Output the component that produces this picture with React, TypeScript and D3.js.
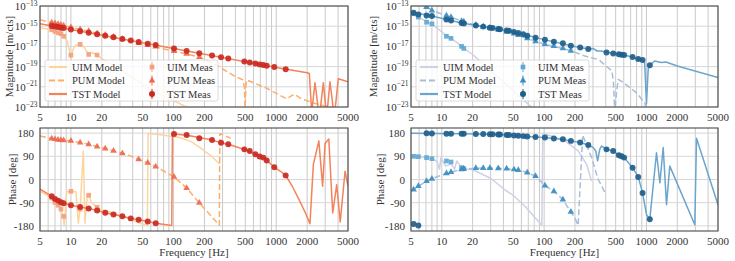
import { useEffect, useRef } from "react";
import * as d3 from "d3";

const W = 735;
const H = 261;
const FONT = "'Liberation Serif', 'DejaVu Serif', serif";

// ticks
const freqTicks = [5, 10, 20, 50, 100, 200, 500, 1000, 2000, 5000];
const magTicks = [1e-13, 1e-15, 1e-17, 1e-19, 1e-21, 1e-23];
const magTickExp = ["\u221213", "\u221215", "\u221217", "\u221219", "\u221221", "\u221223"];
const phaseTicks = [180, 90, 0, -90, -180];
const gridFreqs = [5, 6, 7, 8, 9, 10, 20, 30, 40, 50, 60, 70, 80, 90, 100, 200, 300, 400, 500, 600, 700, 800, 900, 1000, 2000, 3000, 4000, 5000];

// ---------- left (orange) ----------
const uimModelMagL: [number, number][] = [
  [5, 7.1e-16], [6.5, 4.4e-16], [7, 3.0e-16], [7.5, 2.2e-16], [8, 1.8e-16], [8.5, 1.0e-16],
  [9.2, 3.2e-17], [9.7, 3.2e-18], [10, 6.3e-19], [10.4, 4e-18], [11, 1.26e-17], [12.3, 1.6e-17],
  [13.5, 7.9e-18], [14.9, 1.6e-18], [16, 2.5e-18], [18, 1.4e-18], [20, 6.3e-19], [30, 5e-20],
  [50, 2e-21], [80, 1.26e-22], [134, 1e-23], [200, 1e-24],
];
const uimModelPhL: [number, number][] = [
  [5, -45], [6.5, -72], [7, -89], [7.5, -100], [8, -115], [8.4, -143], [8.6, -178], [9.1, -48],
  [10, -46], [11.2, -48], [11.8, -170], [12.3, -115], [13.2, 111], [13.7, -170], [14.45, -62],
  [14.9, -61], [15.9, -90], [18, -108], [19.2, -115], [25, -128], [35, -150], [45, -167],
  [55.5, -179], [56.5, 179], [75, 174], [100, 166], [115, 163], [150, 146], [181, 124], [230, 93], [283, 59],
];
const pumModelMagL: [number, number][] = [
  [5, 4.3e-15], [10, 7.9e-16], [20, 1.58e-16], [50, 1.58e-17], [100, 3.5e-18], [178, 8.9e-19],
  [250, 1.8e-19], [380, 1.4e-20], [470, 5e-21], [490, 1e-21], [497, 3e-24], [505, 1e-21],
  [515, 4.7e-21], [808, 7.2e-22], [1264, 6.5e-23], [1500, 1.86e-22], [1770, 6.3e-23],
  [2400, 2.2e-23], [3300, 1e-23], [5000, 4e-24],
];
const pumModelPhL: [number, number][] = [
  [5, 169], [6.5, 159], [8, 153], [10, 150], [12.3, 143.5], [14.9, 137], [18, 128], [21.6, 120],
  [26, 111], [31.7, 102], [38, 91], [45.7, 78], [56, 65], [67, 50], [80, 33], [101, 10], [134, -33],
  [178, -91], [230, -140], [279, -178], [282, 178], [310, 172], [360, 160],
];
const tstModelMagL: [number, number][] = [
  [5, 1.78e-15], [100, 6.3e-18], [1000, 8.3e-20], [2000, 2.5e-20], [2100, 2.1e-20], [2215, 3e-24],
  [2385, 2.5e-21], [2628, 1e-24], [2875, 2.5e-21], [3100, 1e-24], [3335, 3.2e-21], [3680, 1e-24],
  [4020, 6.3e-21], [5000, 3.2e-21],
];
const tstModelPhL: [number, number][] = [
  [5, -37], [6.5, -65], [7, -76], [7.5, -82], [8, -88], [8.5, -92], [10, -100], [12.3, -107],
  [14.9, -113], [18, -120], [21.6, -129], [26, -136], [31.7, -143], [38.3, -151], [45.7, -156],
  [56, -163], [67, -170], [85, -176], [96, -179], [97.5, 179], [101, 177], [134, 172], [178, 163],
  [237, 153], [290, 143], [341, 137], [420, 125], [489, 117], [552, 108], [626, 99], [690, 91],
  [748, 84], [808, 75], [957, 48], [1100, 32], [1236, 16], [1450, -30], [1700, -85], [1950, -135],
  [2130, -172], [2300, 59], [2600, 150], [2830, -26], [2990, 140], [3250, 157], [3550, -130],
  [3880, -20], [4200, -165], [4680, 32], [5000, -26],
];

const uimFreqL = [6.5, 7, 7.5, 8, 8.5, 10, 12.3, 14.9, 18];
const uimMagL = [4.4e-16, 3.0e-16, 2.2e-16, 1.8e-16, 1.0e-16, 1.35e-18, 1.6e-17, 1.6e-18, 1.4e-18];
const uimPhL = [-72, -89, -100, -115, -143, -46, -115, -61, -108];

const pumFreqL = [6.5, 7, 7.5, 8, 8.5, 10, 12.3, 14.9, 18, 21.6, 26, 31.7, 45.7, 56, 67, 101, 134, 178];
const pumMagL = [2.3e-15, 1.9e-15, 1.58e-15, 1.35e-15, 1.17e-15, 7.9e-16, 4.9e-16, 3.2e-16, 2.0e-16,
  1.38e-16, 8.9e-17, 5.5e-17, 2.1e-17, 1.38e-17, 9.5e-18, 3.5e-18, 1.8e-18, 8.9e-19];
const pumPhL = [159, 156.5, 154, 153, 152, 150, 143.5, 137, 128, 120, 111, 102, 78, 65, 50, 10, -33, -91];

const tstFreqL = [6.5, 7, 7.5, 8, 8.5, 10, 12.3, 14.9, 18, 21.6, 26, 31.7, 38.3, 45.7, 56, 67, 101, 134,
  178, 237, 290, 341, 489, 552, 626, 690, 748, 808, 957, 1236];
const tstMagL = [1.07e-15, 9.3e-16, 8.2e-16, 7.2e-16, 6.5e-16, 4.8e-16, 3.2e-16, 2.24e-16, 1.58e-16,
  1.12e-16, 7.9e-17, 5.5e-17, 3.8e-17, 2.75e-17, 1.86e-17, 1.35e-17, 6.2e-18, 3.6e-18, 2.1e-18,
  1.23e-18, 8.5e-19, 6.3e-19, 3.2e-19, 2.5e-19, 2.0e-19, 1.66e-19, 1.44e-19, 1.24e-19, 9.1e-20, 5.6e-20];
const tstPhL = [-65, -76, -82, -88, -92, -100, -107, -113, -120, -129, -136, -143, -151, -156, -163,
  -170, 177, 173, 160, 153, 143, 137, 117, 111, 98, 89, 85, 74, 48, 16];

// ---------- right (blue) ----------
const uimModelMagR: [number, number][] = [
  [5, 2e-14], [5.9, 7.9e-15], [7.1, 2.8e-15], [8, 1.6e-15], [9, 6.3e-16], [10, 2.8e-16],
  [11.1, 1e-16], [12.3, 6.3e-17], [14, 2.5e-17], [15.6, 1e-17], [16.4, 6.3e-18], [20, 1.58e-18],
  [30, 4e-20], [50, 4e-22], [75, 1e-23], [100, 5e-25],
];
const uimModelPhR: [number, number][] = [
  [5, 91], [7.1, 85], [8, 81], [9, 70], [9.5, 40], [9.8, 85], [10.9, 52], [12.3, 62], [13.3, 40],
  [14, 72], [15.6, 46], [16.4, 42], [20, 38], [30, 5], [41, -39], [50, -62], [65, -104], [80, -145],
  [95, -178], [97, 178], [120, 168], [160, 150], [215, 111], [260, 59], [291, -6],
];
const pumModelMagR: [number, number][] = [
  [5, 2.5e-13], [6, 1.6e-13], [7.1, 7.9e-14], [8, 4e-14], [10, 1.6e-14], [12.3, 7.9e-15],
  [15.6, 3.2e-15], [21, 1.35e-15], [30, 6.3e-16], [45, 2.5e-16], [56, 1.35e-16], [68, 6.3e-17],
  [100, 1.7e-17], [150, 6.3e-18], [185, 3.6e-18], [250, 1.1e-18], [340, 5e-19], [460, 3.6e-20],
  [475, 3e-21], [490, 3e-24], [510, 3e-22], [530, 5.4e-21], [600, 2.5e-21], [800, 2.5e-22],
  [964, 2.5e-23], [1000, 3e-24],
];
const pumModelPhR: [number, number][] = [
  [5, -45], [5.3, -39], [5.9, -26], [7.1, -6.5], [8, 3], [11.1, 23.5], [12.3, 28.7], [15.6, 39],
  [21.5, 44], [30, 44.5], [43, 42], [55.9, 37], [68.4, 27], [82.4, 13], [101.8, -23.5],
  [124.5, -45.6], [152.5, -78], [182.5, -126], [200, -150], [215, -178], [238, 172], [291, 85],
  [337, 0], [360, -20], [393, -52],
];
const tstModelMagR: [number, number][] = [
  [5, 2.5e-14], [8, 1e-14], [15.6, 2.1e-15], [30, 7.1e-16], [50, 2.8e-16], [100, 4.7e-17],
  [200, 1e-17], [270, 5.4e-18], [300, 6.3e-18], [330, 3.5e-18], [360, 3.5e-18], [400, 2.8e-18],
  [500, 1.9e-18], [600, 1.38e-18], [730, 8.9e-19], [900, 4.7e-19], [960, 2.5e-19], [1000, 2e-23],
  [1040, 6.3e-20], [1078, 1.35e-19], [1200, 3.6e-19], [1400, 2.5e-19], [1550, 2.8e-19],
  [2000, 1.15e-19], [5000, 8.5e-21],
];
const tstModelPhR: [number, number][] = [
  [5, 179.5], [8, 178.5], [16, 177.5], [30, 175.5], [45, 173], [56, 170], [68, 167], [82, 165],
  [100, 163], [125, 159], [152, 156.5], [182, 150], [225, 143.5], [270, 134], [300, 125],
  [320, 110], [333, 72], [350, 118], [364, 130], [407, 117], [473, 111], [537, 94], [571, 90],
  [605, 85], [731, 46], [830, 10], [916, -52], [1002, -137], [1078, -154], [1253, 104],
  [1352, -13], [1457, 124], [1570, -98], [1690, 52], [2966, -176], [3083, 160], [5000, -98],
];

const uimFreqR = [5.3, 5.9, 7.1, 8.0, 11.1, 12.3, 15.6, 16.4];
const uimMagR = [1.7e-14, 7.9e-15, 2.5e-15, 1.7e-15, 1.0e-16, 6.3e-17, 1.0e-17, 6.3e-18];
const uimPhR = [90, 88.6, 85, 81, 72, 68, 46, 42];

const pumFreqR = [5.3, 5.9, 7.1, 8.0, 11.1, 12.3, 15.6, 16.4, 21.5, 25.4, 29.5, 35.6, 43, 50.7, 55.9,
  68.4, 82.4, 101.8, 124.5, 152.5, 182.5];
const pumMagR = [2.2e-13, 1.6e-13, 7.9e-14, 3.5e-14, 1.1e-14, 7.9e-15, 3.2e-15, 2.8e-15, 1.35e-15,
  9.3e-16, 6.8e-16, 4.5e-16, 2.8e-16, 1.9e-16, 1.35e-16, 6.3e-17, 3.2e-17, 1.7e-17, 1.1e-17,
  6.3e-18, 3.6e-18];
const pumPhR = [-39, -26, -6.5, 3, 23.5, 28.7, 39, 41.7, 44, 44.3, 44.3, 43.5, 42, 39, 37, 27, 13,
  -23.5, -45.6, -78, -126];

const tstFreqR = [5.3, 5.9, 7.1, 8.0, 11.1, 12.3, 15.6, 16.4, 21.5, 25.4, 29.5, 31.3, 35.6, 37, 43,
  45.3, 50.7, 55.9, 62.5, 68.4, 82.4, 101.8, 124.5, 152.5, 182.5, 225, 270, 407, 473, 537, 571, 605,
  731, 830, 916, 1078];
const tstMagR = [2.1e-14, 1.45e-14, 1.15e-14, 1.0e-14, 4.7e-15, 3.7e-15, 2.1e-15, 1.9e-15, 1.15e-15,
  9.1e-16, 7.2e-16, 6.6e-16, 5.4e-16, 5.0e-16, 3.8e-16, 3.5e-16, 2.75e-16, 2.1e-16, 1.58e-16,
  1.15e-16, 7.1e-17, 4.6e-17, 2.9e-17, 2.0e-17, 1.15e-17, 7.9e-18, 5.4e-18, 2.5e-18, 2.0e-18,
  1.7e-18, 1.5e-18, 1.38e-18, 8.9e-19, 5.6e-19, 4.5e-19, 1.35e-19];
const tstPhR = [-173, -179, 180, 179, 178, 178, 177.5, 177.5, 177, 176.5, 175.5, 175.5, 174.5, 174.5,
  173, 172.5, 171, 170, 168.5, 167, 165, 163, 159, 156.5, 150, 143.5, 134, 117, 111, 94, 90, 85, 46,
  10, -52, -154];

const legendLabels = ["UIM Model", "PUM Model", "TST Model", "UIM Meas", "PUM Meas", "TST Meas"];

const sides = [
  {
    left: 40, right: 348, magLabelX: 9, phLabelX: 12,
    colors: { uimM: "#fdd49e", pumM: "#fdae6b", tstM: "#f4825a", uim: "#f4a07e", pum: "#eb6a4f", tst: "#c92a22" },
    models: { uim: [uimModelMagL, uimModelPhL], pum: [pumModelMagL, pumModelPhL], tst: [tstModelMagL, tstModelPhL] },
    meas: {
      uim: [uimFreqL, uimMagL, uimPhL], pum: [pumFreqL, pumMagL, pumPhL], tst: [tstFreqL, tstMagL, tstPhL],
    },
  },
  {
    left: 411, right: 718, magLabelX: 373, phLabelX: 380,
    colors: { uimM: "#cfd1e5", pumM: "#a7bedb", tstM: "#6ba5cd", uim: "#5ea8d5", pum: "#3a8dc2", tst: "#1f5f8c" },
    models: { uim: [uimModelMagR, uimModelPhR], pum: [pumModelMagR, pumModelPhR], tst: [tstModelMagR, tstModelPhR] },
    meas: {
      uim: [uimFreqR, uimMagR, uimPhR], pum: [pumFreqR, pumMagR, pumPhR], tst: [tstFreqR, tstMagR, tstPhR],
    },
  },
];

function App() {
  const myNode = useRef<SVGSVGElement>(null);

  useEffect(() => {
    const svg = d3.select(myNode.current);
    svg.selectAll("*").remove();
    const textCol = "#333";

    sides.forEach((side, si) => {
      const x = d3.scaleLog().domain([5, 5000]).range([side.left, side.right]);
      const rows = [
        { kind: "mag", top: 6, bottom: 107 },
        { kind: "ph", top: 128, bottom: 231 },
      ];
      rows.forEach((row, ri) => {
        const isMag = row.kind === "mag";
        const y: any = isMag
          ? d3.scaleLog().domain([1e-23, 1e-13]).range([row.bottom, row.top])
          : d3.scaleLinear().domain([-200, 200]).range([row.bottom, row.top]);
        const g = svg.append("g");
        const clipId = `clip-${si}-${ri}`;
        svg.append("clipPath").attr("id", clipId).append("rect")
          .attr("x", side.left).attr("y", row.top)
          .attr("width", side.right - side.left).attr("height", row.bottom - row.top);

        // grid
        g.selectAll(".vg").data(gridFreqs).enter().append("line")
          .attr("x1", d => x(d)).attr("x2", d => x(d))
          .attr("y1", row.top).attr("y2", row.bottom)
          .attr("stroke", "#c4c4c4").attr("stroke-width", 0.9);
        const yt = isMag ? magTicks : phaseTicks;
        g.selectAll(".hg").data(yt).enter().append("line")
          .attr("x1", side.left).attr("x2", side.right)
          .attr("y1", d => y(d)).attr("y2", d => y(d))
          .attr("stroke", "#d3d3d3").attr("stroke-width", 0.9);

        const plot = g.append("g").attr("clip-path", `url(#${clipId})`);
        const line = d3.line<[number, number]>()
          .x(d => x(d[0]))
          .y(d => y(d[1]));
        const idx = isMag ? 0 : 1;
        const modelStyle: [string, string, string | null, number][] = [
          ["uim", side.colors.uimM, null, 1.5],
          ["pum", side.colors.pumM, "6,3", 1.5],
          ["tst", side.colors.tstM, null, 1.5],
        ];
        modelStyle.forEach(([k, col, dash, w]) => {
          const data = (side.models as any)[k][idx] as [number, number][];
          const p = plot.append("path")
            .attr("d", line(data))
            .attr("fill", "none")
            .attr("stroke", col)
            .attr("stroke-width", w)
            .attr("stroke-linejoin", "round");
          if (dash) p.attr("stroke-dasharray", dash);
        });

        const measStyle: [string, string, any, number][] = [
          ["uim", side.colors.uim, d3.symbolSquare, 22],
          ["pum", side.colors.pum, d3.symbolTriangle, 19],
          ["tst", side.colors.tst, d3.symbolCircle, 28],
        ];
        measStyle.forEach(([k, col, sym, size]) => {
          const m = (side.meas as any)[k];
          const fr: number[] = m[0];
          const vals: number[] = isMag ? m[1] : m[2];
          const pts = fr.map((f, i) => [f, vals[i]] as [number, number]);
          plot.selectAll(`.m-${k}`).data(pts).enter().append("path")
            .attr("d", d3.symbol().type(sym).size(size)())
            .attr("transform", d => `translate(${x(d[0])},${y(d[1])})`)
            .attr("fill", col)
            .attr("fill-opacity", 0.92);
        });

        // frame
        g.append("rect")
          .attr("x", side.left).attr("y", row.top)
          .attr("width", side.right - side.left).attr("height", row.bottom - row.top)
          .attr("fill", "none").attr("stroke", "#4a4a4a").attr("stroke-width", 1.1);

        // x tick labels
        g.selectAll(".xt").data(freqTicks).enter().append("text")
          .attr("x", d => x(d)).attr("y", row.bottom + 13.5)
          .attr("text-anchor", "middle")
          .attr("font-family", FONT).attr("font-size", 11).attr("fill", textCol)
          .text(d => String(d));

        // y tick labels
        if (isMag) {
          magTicks.forEach((t, i) => {
            const tx = g.append("text")
              .attr("x", side.left - 2.5).attr("y", y(t) + 4)
              .attr("text-anchor", "end")
              .attr("font-family", FONT).attr("font-size", 11).attr("fill", textCol);
            tx.append("tspan").text("10");
            tx.append("tspan").attr("dy", -4.5).attr("font-size", 7.5).text(magTickExp[i]);
          });
        } else {
          g.selectAll(".yt").data(phaseTicks).enter().append("text")
            .attr("x", side.left - 6).attr("y", d => y(d) + 4)
            .attr("text-anchor", "end")
            .attr("font-family", FONT).attr("font-size", 11).attr("fill", textCol)
            .text(d => String(d));
        }

        // axis labels
        const ylab = isMag ? "Magnitude [m/cts]" : "Phase [deg]";
        const lx = isMag ? side.magLabelX : side.phLabelX;
        const ly = (row.top + row.bottom) / 2;
        g.append("text")
          .attr("transform", `translate(${lx},${ly}) rotate(-90)`)
          .attr("text-anchor", "middle").attr("dy", "0.35em")
          .attr("font-family", FONT).attr("font-size", 11).attr("fill", textCol)
          .text(ylab);
        if (!isMag) {
          g.append("text")
            .attr("x", (side.left + side.right) / 2).attr("y", 255.5)
            .attr("text-anchor", "middle")
            .attr("font-family", FONT).attr("font-size", 11).attr("fill", textCol)
            .text("Frequency [Hz]");
        }

        // legend
        if (isMag) {
          const bx = side.left + 5;
          const by = 60;
          const lg = g.append("g");
          lg.append("rect")
            .attr("x", bx).attr("y", by).attr("width", 173).attr("height", 41)
            .attr("rx", 2).attr("fill", "#fff").attr("fill-opacity", 0.8)
            .attr("stroke", "#d0d0d0").attr("stroke-width", 0.8);
          const rowY = [by + 7, by + 20.5, by + 34];
          modelStyle.forEach(([, col, dash], i) => {
            const l = lg.append("line")
              .attr("x1", bx + 4).attr("x2", bx + 22)
              .attr("y1", rowY[i]).attr("y2", rowY[i])
              .attr("stroke", col).attr("stroke-width", 2.2);
            if (dash) l.attr("stroke-dasharray", "6,3");
            lg.append("text")
              .attr("x", bx + 27).attr("y", rowY[i] + 3.8)
              .attr("font-family", FONT).attr("font-size", 10.5).attr("fill", textCol)
              .text(legendLabels[i]);
          });
          measStyle.forEach(([, col, sym, size], i) => {
            const mx = bx + 107;
            lg.append("line")
              .attr("x1", mx).attr("x2", mx)
              .attr("y1", rowY[i] - 5).attr("y2", rowY[i] + 5)
              .attr("stroke", col).attr("stroke-width", 1);
            lg.append("path")
              .attr("d", d3.symbol().type(sym).size(size)())
              .attr("transform", `translate(${mx},${rowY[i]})`)
              .attr("fill", col);
            lg.append("text")
              .attr("x", bx + 122).attr("y", rowY[i] + 3.8)
              .attr("font-family", FONT).attr("font-size", 10.5).attr("fill", textCol)
              .text(legendLabels[i + 3]);
          });
        }
      });
    });
  }, []);

  return (
    <svg
      ref={myNode}
      width={W}
      height={H}
      style={{ position: "absolute", left: 0, top: 0, background: "#fff" }}
    />
  );
}

export default App;
